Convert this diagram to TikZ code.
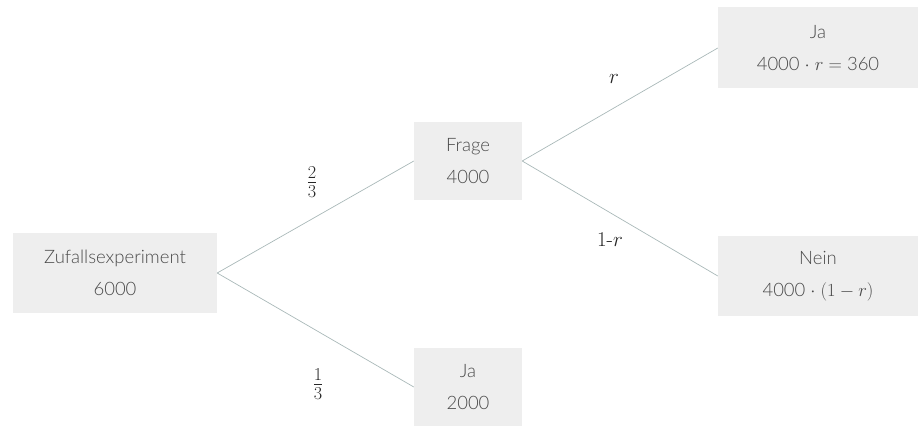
\RequirePackage{fix-cm}
\documentclass[tikz,border=0pt]{standalone}
\usepackage{fontspec}
\setmainfont{Lato Light}
\newfontfamily\lmfont{Latin Modern Roman}
\begin{document}
\begin{tikzpicture}[x=1pt,y=-1pt,
  box/.style={fill=boxgray,draw=none,text=txtgray,align=center,inner sep=0pt,
    font=\fontsize{18.5}{32}\selectfont},
  edge/.style={draw=linegray,line width=0.7pt},
  lab/.style={text=black!85,font=\lmfont\fontsize{21}{24}\selectfont,inner sep=0pt},
  fraclab/.style={lab,font=\lmfont\fontsize{26}{28}\selectfont}]
\definecolor{boxgray}{HTML}{EEEEEE}
\definecolor{txtgray}{HTML}{4A4A4A}
\definecolor{linegray}{HTML}{A9B8B8}
\useasboundingbox (0,0) rectangle (921,427);
\node[box,minimum width=204pt,minimum height=80pt] (z) at (115,273) {Zufallsexperiment\\6000};
\node[box,minimum width=108pt,minimum height=78pt] (f) at (468,161) {Frage\\4000};
\node[box,minimum width=108pt,minimum height=78pt] (jb) at (468,387) {Ja\\2000};
\node[box,minimum width=200pt,minimum height=81pt] (jt) at (818,48) {Ja\\4000 $\cdot$ $r = $ 360};
\node[box,minimum width=200pt,minimum height=80pt] (n) at (818,276) {Nein\\4000 $\cdot$ $(1 - r)$};
\draw[edge] (z.east) -- (f.west);
\draw[edge] (z.east) -- (jb.west);
\draw[edge] (f.east) -- (jt.west);
\draw[edge] (f.east) -- (n.west);
\node[fraclab] (l1) at (312,182) {$\frac{2}{3}$};
\node[fraclab] (l2) at (318,384) {$\frac{1}{3}$};
\node[lab] (l3) at (614,79) {$r$};
\node[lab] (l4) at (610,240) {1-$r$};
\end{tikzpicture}
\end{document}
